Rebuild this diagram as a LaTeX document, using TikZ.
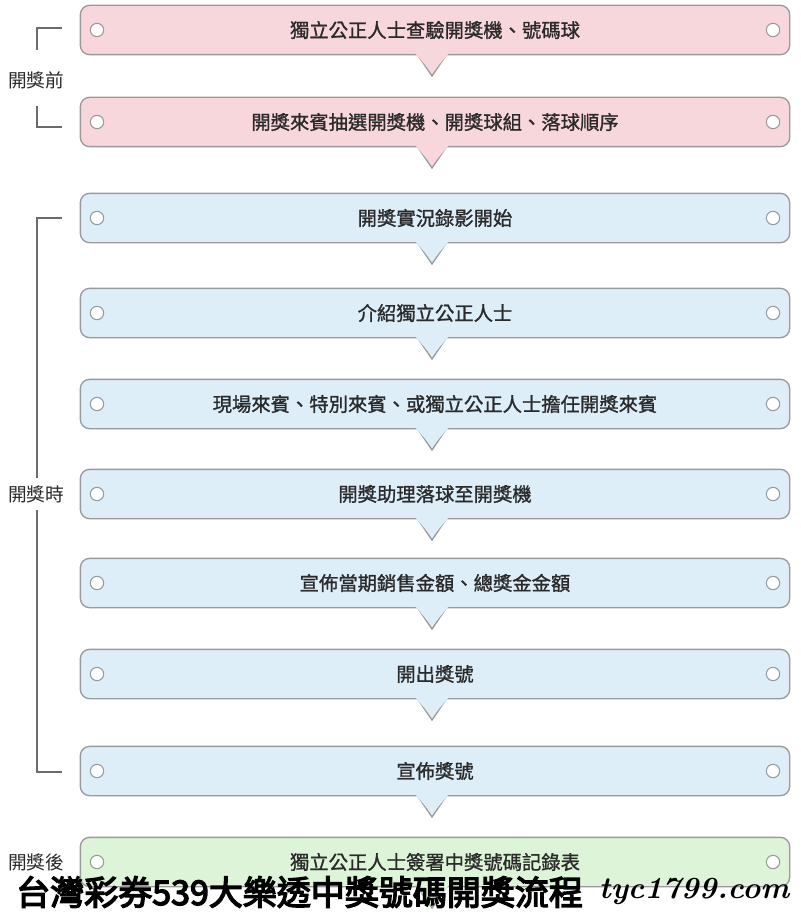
\documentclass[tikz,border=0pt]{standalone}
\usepackage{fontspec}
\usetikzlibrary{positioning,calc}
\newfontfamily\cjk[AutoFakeBold=1.2]{Noto Sans CJK TC}
\newfontfamily\cjkbold[AutoFakeBold=4]{Noto Sans CJK TC}
\definecolor{pinkbox}{HTML}{F7D7DC}
\definecolor{bluebox}{HTML}{DDEEF9}
\definecolor{greenbox}{HTML}{DDF4D8}
\definecolor{edgegray}{HTML}{9A9A9A}
\definecolor{txtgray}{HTML}{2A2A2A}

\begin{document}
\begin{tikzpicture}[
    x=0.75pt, y=-0.75pt,
    stepbox/.style={rectangle, rounded corners=7pt, minimum width=532pt,
                    minimum height=37pt, draw=edgegray, line width=1pt,
                    font=\cjk\bfseries\fontsize{14.5}{16}\selectfont, text=txtgray},
    dot/.style={circle, draw=edgegray, fill=white, minimum size=10pt,
                inner sep=0pt, line width=0.8pt},
    side/.style={font=\cjk\fontsize{14}{16}\selectfont, text=txtgray},
    brk/.style={edgegray!70!black, line width=1pt}
  ]

  % ---- Canvas ----
  \useasboundingbox (0,0) rectangle (800,913);
  \fill[white] (0,0) rectangle (800,913);

  % ---- Steps ----
  \foreach \n/\y/\c/\t in {
      1/30/pinkbox/{獨立公正人士查驗開獎機、號碼球},
      2/122/pinkbox/{開獎來賓抽選開獎機、開獎球組、落球順序},
      3/218/bluebox/{開獎實況錄影開始},
      4/313/bluebox/{介紹獨立公正人士},
      5/404/bluebox/{現場來賓、特別來賓、或獨立公正人士擔任開獎來賓},
      6/494/bluebox/{開獎助理落球至開獎機},
      7/583/bluebox/{宣佈當期銷售金額、總獎金金額},
      8/674/bluebox/{開出獎號},
      9/771/bluebox/{宣佈獎號},
      10/862/greenbox/{獨立公正人士簽署中獎號碼記錄表}} {
    % notch below the box
    \filldraw[fill=\c, draw=edgegray, line width=1pt]
      (417,\y+24) -- (432,\y+46) -- (447,\y+24);
    \node[stepbox, fill=\c] (b\n) at (435,\y) {\t};
    \fill[\c] (415,\y+23) -- (432,\y+43) -- (449,\y+23) -- cycle;
    \node[dot] (l\n) at (97,\y) {};
    \node[dot] (r\n) at (773,\y) {};
  }

  % ---- Phase labels ----
  \node[side] (pre) at (36,80) {開獎前};
  \draw[brk] (62,28) -- (37,28) -- (37,50);
  \draw[brk] (37,106) -- (37,127) -- (62,127);
  \node[side] (dur) at (36,494) {開獎時};
  \draw[brk] (62,218) -- (37,218) -- (37,478);
  \draw[brk] (37,510) -- (37,772) -- (62,772);
  \node[side] (post) at (36,862) {開獎後};

  % ---- Caption ----
  \node[font=\cjkbold\bfseries\fontsize{25.5}{27}\selectfont, anchor=west, inner sep=0pt] (cap)
    at (16,892) {台灣彩券539大樂透中獎號碼開獎流程};
  \node[font=\bfseries\itshape\fontsize{23}{25}\selectfont, anchor=east] (site)
    at (794,891) {tyc1799.com};

\end{tikzpicture}
\end{document}
